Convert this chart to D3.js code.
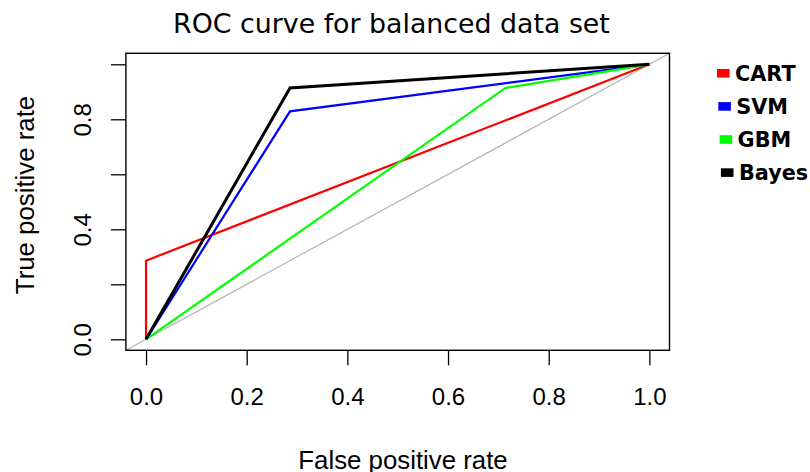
<!DOCTYPE html>
<html>
<head>
<meta charset="utf-8">
<script src="https://cdn.jsdelivr.net/npm/d3@7"></script>
<style>
  body { margin: 0; background: #fff; }
  .tick text { font-family: "Liberation Sans", Arial, sans-serif; font-size: 24px; fill: #000; }
  .domain { display: none; }
</style>
</head>
<body>
<div id="chart"></div>
<script>
// ROC curves, one array pair per model
const models = ["CART", "SVM", "GBM", "Bayes"];
const modelColors = ["#ff0000", "#0000ff", "#00ff00", "#000000"];
const fprCART = [0, 0, 1];
const tprCART = [0, 0.286, 1];
const fprSVM = [0, 0.286, 1];
const tprSVM = [0, 0.829, 1];
const fprGBM = [0, 0.714, 1];
const tprGBM = [0, 0.914, 1];
const fprBayes = [0, 0.286, 1];
const tprBayes = [0, 0.914, 1];
const xTicks = [0, 0.2, 0.4, 0.6, 0.8, 1.0];
const yTicks = [0, 0.2, 0.4, 0.6, 0.8, 1.0];
const yTickLabels = ["0.0", "", "0.4", "", "0.8", ""];

const curves = [
  {name: models[0], fpr: fprCART, tpr: tprCART},
  {name: models[1], fpr: fprSVM, tpr: tprSVM},
  {name: models[2], fpr: fprGBM, tpr: tprGBM},
  {name: models[3], fpr: fprBayes, tpr: tprBayes}
];

const width = 810, height = 472;
const plot = {left: 125.9, right: 669.5, top: 53.3, bottom: 350.3};

const svg = d3.select("#chart").append("svg")
  .attr("width", width)
  .attr("height", height);

// R style: 4% padding on both axes
const x = d3.scaleLinear().domain([-0.04, 1.04]).range([plot.left, plot.right]);
const y = d3.scaleLinear().domain([-0.04, 1.04]).range([plot.bottom, plot.top]);

svg.append("defs").append("clipPath").attr("id", "clip")
  .append("rect")
  .attr("x", plot.left).attr("y", plot.top)
  .attr("width", plot.right - plot.left).attr("height", plot.bottom - plot.top);

// diagonal reference line
svg.append("line")
  .attr("clip-path", "url(#clip)")
  .attr("x1", x(-0.04)).attr("y1", y(-0.04))
  .attr("x2", x(1.04)).attr("y2", y(1.04))
  .attr("stroke", "#b3b3b3")
  .attr("stroke-width", 1.2);

const line = d3.line()
  .x(d => x(d[0]))
  .y(d => y(d[1]));

svg.selectAll(".roc")
  .data(curves)
  .enter().append("path")
  .attr("class", "roc")
  .attr("fill", "none")
  .attr("stroke", (d, i) => modelColors[i])
  .attr("stroke-width", d => d.name === "Bayes" ? 3 : 2.2)
  .attr("stroke-linejoin", "miter")
  .attr("d", d => line(d.fpr.map((v, i) => [v, d.tpr[i]])));

// box
svg.append("rect")
  .attr("x", plot.left).attr("y", plot.top)
  .attr("width", plot.right - plot.left).attr("height", plot.bottom - plot.top)
  .attr("fill", "none")
  .attr("stroke", "#000")
  .attr("stroke-width", 1.4);

// axes
const xAxis = d3.axisBottom(x)
  .tickValues(xTicks)
  .tickSize(15)
  .tickPadding(22.5)
  .tickFormat(d3.format(".1f"));

svg.append("g")
  .attr("class", "x-axis")
  .attr("transform", `translate(0, ${plot.bottom})`)
  .call(xAxis);

const yAxis = d3.axisLeft(y)
  .tickValues(yTicks)
  .tickSize(15)
  .tickFormat((d, i) => yTickLabels[i]);

svg.append("g")
  .attr("class", "y-axis")
  .attr("transform", `translate(${plot.left}, 0)`)
  .call(yAxis)
  .selectAll("text")
  .attr("x", 0)
  .attr("y", -(plot.left - 90.5))
  .attr("dy", 0)
  .attr("transform", "rotate(-90)")
  .style("text-anchor", "middle");

svg.selectAll(".tick line").attr("stroke", "#000").attr("stroke-width", 1.3);

// titles
svg.append("text")
  .attr("x", 391.5).attr("y", 33.3)
  .attr("text-anchor", "middle")
  .style("font-family", "'DejaVu Sans', Verdana, sans-serif")
  .style("font-size", "26.8px")
  .text("ROC curve for balanced data set");

svg.append("text")
  .attr("x", 403).attr("y", 468.5)
  .attr("text-anchor", "middle")
  .style("font-family", "'Liberation Sans', Arial, sans-serif")
  .style("font-size", "25.8px")
  .text("False positive rate");

svg.append("text")
  .attr("transform", "translate(33.5, 195) rotate(-90)")
  .attr("text-anchor", "middle")
  .style("font-family", "'Liberation Sans', Arial, sans-serif")
  .style("font-size", "25.8px")
  .text("True positive rate");

// legend, outside the plot on the right
const legend = svg.selectAll(".legend-item")
  .data(models)
  .enter().append("g")
  .attr("class", "legend-item")
  .attr("transform", (d, i) => `translate(${717 + i * 1.3}, ${73.3 + i * 33.1})`);

legend.append("rect")
  .attr("x", 0).attr("y", -4.3)
  .attr("width", 12.6).attr("height", 8.6)
  .attr("fill", (d, i) => modelColors[i]);

legend.append("text")
  .attr("x", 18).attr("y", 7.5)
  .style("font-family", "'DejaVu Sans', Verdana, sans-serif")
  .style("font-weight", "bold")
  .style("font-size", "20.8px")
  .text(d => d);
</script>
</body>
</html>
